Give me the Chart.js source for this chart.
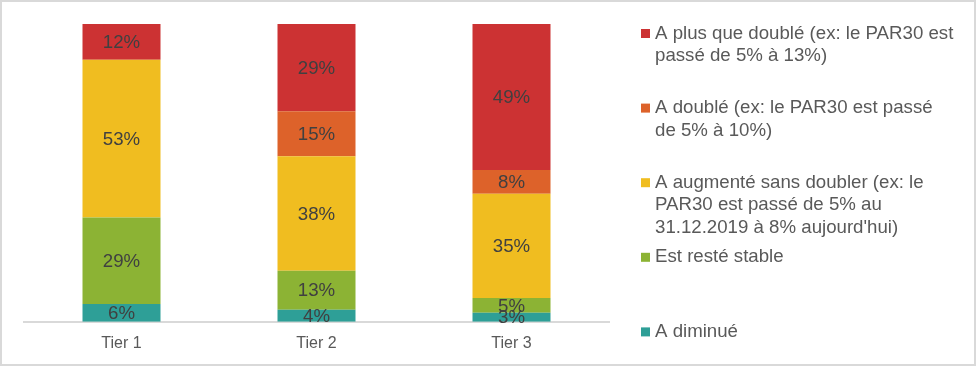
<!DOCTYPE html>
<html>
<head>
<meta charset="utf-8">
<script src="https://cdn.jsdelivr.net/npm/chart.js@4.4.1/dist/chart.umd.min.js"></script>
<style>
  html, body { margin: 0; padding: 0; background: #fff; }
  #wrap { position: relative; width: 976px; height: 366px; }
</style>
</head>
<body>
<div id="wrap"><canvas id="myChart" width="976" height="366"></canvas></div>
<script>
// categorieen en waarden (in %)
const categories = ['Tier 1', 'Tier 2', 'Tier 3'];
const diminue = [6, 4, 3];
const stable = [29, 13, 5];
const augmente = [53, 38, 35];
const double = [0, 15, 8];
const plusQueDouble = [12, 29, 49];

// legende teksten, per regel
const seriesNames = [
  ['A plus que doublé (ex: le PAR30 est', 'passé de 5% à 13%)'],
  ['A doublé (ex: le PAR30 est passé', 'de 5% à 10%)'],
  ['A augmenté sans doubler (ex: le', 'PAR30 est passé de 5% au', '31.12.2019 à 8% aujourd\'hui)'],
  ['Est resté stable'],
  ['A diminué']
];

const font = 'Liberation Sans, Arial, sans-serif';

// totaal per kolom, om naar 100% te schalen
const totals = categories.map((c, i) =>
  diminue[i] + stable[i] + augmente[i] + double[i] + plusQueDouble[i]);
const norm = arr => arr.map((v, i) => v / totals[i] * 100);

// van onder naar boven
const stackSeries = [
  { values: diminue, color: '#2e9f97', name: 4 },
  { values: stable, color: '#8cb334', name: 3 },
  { values: augmente, color: '#f0bd20', name: 2 },
  { values: double, color: '#dd622a', name: 1 },
  { values: plusQueDouble, color: '#cc3233', name: 0 }
];

const datasets = stackSeries.map(s => ({
  label: seriesNames[s.name].join(' '),
  data: norm(s.values),
  raw: s.values,
  backgroundColor: s.color,
  borderWidth: 0,
  categoryPercentage: 1,
  barPercentage: 0.4
}));

// labels in de balken + legende + rand
const labelPlugin = {
  id: 'labels',
  beforeDraw(chart) {
    const ctx = chart.ctx;
    ctx.save();
    ctx.fillStyle = '#fff';
    ctx.fillRect(0, 0, chart.width, chart.height);
    ctx.restore();
  },
  afterDatasetsDraw(chart) {
    const ctx = chart.ctx;
    ctx.save();
    ctx.font = '18.67px ' + font;
    ctx.fillStyle = '#404040';
    ctx.textAlign = 'center';
    ctx.textBaseline = 'middle';
    chart.data.datasets.forEach((ds, di) => {
      const meta = chart.getDatasetMeta(di);
      meta.data.forEach((bar, i) => {
        const v = ds.raw[i];
        if (!v) return;
        ctx.fillText(v + '%', bar.x, (bar.y + bar.base) / 2 + 1);
      });
    });
    ctx.restore();
  },
  afterDraw(chart) {
    const ctx = chart.ctx;
    ctx.save();
    // legende
    ctx.font = '18.67px ' + font;
    ctx.textBaseline = 'middle';
    ctx.textAlign = 'left';
    const colors = ['#cc3233', '#dd622a', '#f0bd20', '#8cb334', '#2e9f97'];
    seriesNames.forEach((lines, i) => {
      const y = 33.5 + i * 74.6;
      ctx.fillStyle = colors[i];
      ctx.fillRect(641, y - 4.5, 9, 9);
      ctx.fillStyle = '#595959';
      lines.forEach((t, j) => ctx.fillText(t, 655, y + j * 22.5));
    });
    // rand
    ctx.strokeStyle = '#d9d9d9';
    ctx.lineWidth = 2;
    ctx.strokeRect(1, 1, chart.width - 2, chart.height - 2);
    ctx.restore();
  }
};

const config = {
  type: 'bar',
  data: { labels: categories, datasets: datasets },
  options: {
    responsive: false,
    animation: false,
    layout: { padding: { top: 24, left: 24, right: 367, bottom: 1 } },
    scales: {
      x: {
        stacked: true,
        grid: { display: true, drawOnChartArea: false, drawTicks: false },
        border: { display: true, color: '#d9d9d9', width: 2 },
        ticks: { color: '#595959', font: { family: font, size: 16 }, padding: 12 }
      },
      y: {
        stacked: true,
        min: 0,
        max: 100,
        display: false
      }
    },
    plugins: {
      legend: { display: false },
      tooltip: { enabled: false }
    }
  },
  plugins: [labelPlugin]
};

var myChart = new Chart(document.getElementById('myChart'), config);
</script>
</body>
</html>
